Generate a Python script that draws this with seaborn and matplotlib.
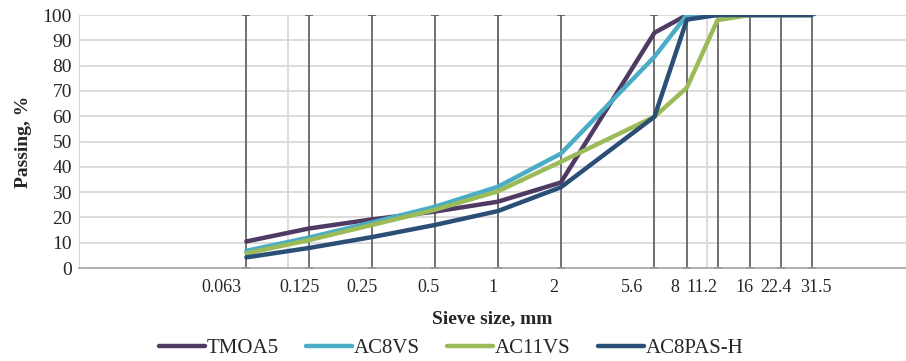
import numpy as np
import pandas as pd
import seaborn as sns
import matplotlib.pyplot as plt
from matplotlib.transforms import ScaledTranslation

# sieve sizes (mm) and passing (%) per mix
sieve = [0.063, 0.125, 0.25, 0.5, 1, 2, 5.6, 8, 11.2, 16, 22.4, 31.5]
sieve_labels = ["0.063", "0.125", "0.25", "0.5", "1", "2", "5.6", "8", "11.2", "16", "22.4", "31.5"]
tmoa5 = [10.5, 15.6, 19.2, 22.3, 26.2, 33.8, 93.0, 100, 100, 100, 100, 100]
ac8vs = [6.8, 12.0, 18.0, 24.2, 32.1, 45.2, 83.5, 100, 100, 100, 100, 100]
ac11vs = [5.8, 11.0, 17.0, 23.0, 30.3, 42.0, 59.8, 71.3, 98.0, 100, 100, 100]
ac8pas_h = [4.2, 7.9, 12.2, 17.0, 22.5, 31.9, 59.8, 98.2, 100, 100, 100, 100]

mixes = ["TMOA5", "AC8VS", "AC11VS", "AC8PAS-H"]
colors = ["#4F3A63", "#4BACC6", "#9BBB59", "#2B4E77"]

# the original's x labels sit slightly left of their ticks (pixels)
label_shift_px = [-25, -9, -10, -6, -5, -7, -22, -12, -16, -5, -5, 4]

df = pd.concat([
    pd.DataFrame({"sieve": sieve, "passing": vals, "mix": name})
    for name, vals in zip(mixes, [tmoa5, ac8vs, ac11vs, ac8pas_h])
])

sns.set_style("white")
plt.rcParams['font.family'] = ['Liberation Serif', 'DejaVu Serif']

fig = plt.figure(figsize=(9.06, 3.61), dpi=100)
ax = fig.add_axes([0.0872, 0.2576, 1 - 0.0872, 0.7008])

ax.set_xscale("log")
ax.set_xlim(0.01, 89)
ax.set_ylim(0, 100)

# light grid: decades and every 10 %
for d in [0.01, 0.1, 1, 10]:
    ax.axvline(d, color="#D9D9D9", lw=1.3, zorder=0)
ax.set_yticks(np.arange(0, 101, 10))
ax.yaxis.grid(True, color="#D9D9D9", lw=1.3, zorder=0)
ax.set_axisbelow(True)

# dark drop lines at every sieve with a cap on top
ax.errorbar(sieve, [100] * len(sieve), yerr=[[100] * len(sieve), [0] * len(sieve)],
            fmt="none", ecolor="#595959", elinewidth=1.2, capsize=3.2, capthick=1.2, zorder=1)

sns.lineplot(data=df, x="sieve", y="passing", hue="mix", palette=colors,
             linewidth=3.2, ax=ax, zorder=3)

ax.set_xticks(sieve)
ax.set_xticklabels(sieve_labels)
ax.xaxis.set_minor_locator(plt.NullLocator())
ax.tick_params(axis="x", which="major", length=5, color="#595959", width=1.2, pad=3, labelsize=13)
ax.tick_params(axis="y", length=0, pad=5, labelsize=14)
for lab, dx in zip(ax.get_xticklabels(), label_shift_px):
    lab.set_transform(lab.get_transform() + ScaledTranslation(dx / 100, 0, fig.dpi_scale_trans))

for s in ["top", "right"]:
    ax.spines[s].set_visible(False)
ax.spines["left"].set_color("#D9D9D9")
ax.spines["bottom"].set_color("#A6A6A6")
ax.spines["bottom"].set_linewidth(1.2)

ax.set_xlabel("Sieve size, mm", fontsize=14, fontweight="bold", labelpad=10)
ax.set_ylabel("Passing, %", fontsize=14, fontweight="bold", labelpad=8)

handles, labels = ax.get_legend_handles_labels()
for h in handles:
    h.set_solid_capstyle("round")
ax.legend(handles, labels, loc="center", bbox_to_anchor=(0.498, 0.036),
          bbox_transform=fig.transFigure, ncol=4, frameon=False, fontsize=15,
          handlelength=2.2, handletextpad=0.1, columnspacing=1.3)

fig.savefig("out.png", dpi=100)
